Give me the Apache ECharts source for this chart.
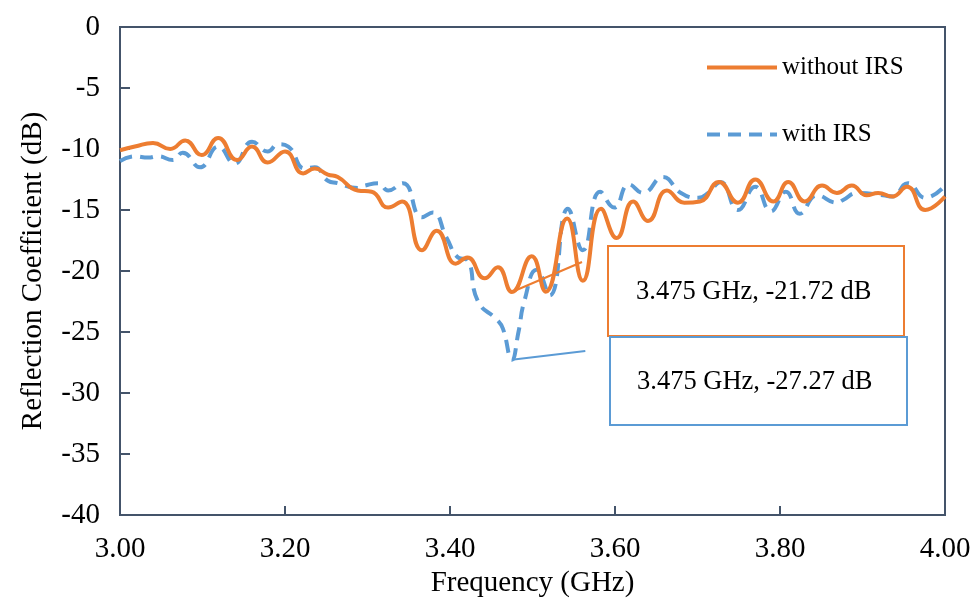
<!DOCTYPE html>
<html>
<head>
<meta charset="utf-8">
<script src="https://cdn.jsdelivr.net/npm/echarts@6/dist/echarts.min.js"></script>
<style>html,body{margin:0;padding:0;background:#fff}#c{width:978px;height:599px}</style>
</head>
<body>
<div id="c"></div>
<script>
const seriesNames = ['without IRS', 'with IRS'];
const freqWithout = [3.000,3.018,3.040,3.061,3.079,3.099,3.119,3.142,3.160,3.179,3.200,3.222,3.236,3.252,3.264,3.288,3.305,3.325,3.342,3.366,3.384,3.407,3.421,3.442,3.458,3.475,3.499,3.516,3.542,3.561,3.583,3.602,3.622,3.640,3.663,3.684,3.703,3.726,3.749,3.770,3.792,3.810,3.830,3.851,3.869,3.887,3.905,3.919,3.936,3.954,3.976,4.000];
const dbWithout = [-10.1,-9.8,-9.5,-10.0,-9.3,-10.5,-9.1,-10.9,-9.8,-11.1,-10.2,-12.0,-11.6,-12.1,-12.3,-13.4,-13.5,-14.8,-14.3,-18.3,-16.7,-19.4,-18.9,-20.6,-19.7,-21.72,-18.8,-21.7,-15.7,-20.8,-14.9,-17.3,-14.3,-15.9,-13.4,-14.4,-14.3,-12.7,-14.4,-12.5,-14.3,-12.7,-14.3,-13.0,-13.6,-13.0,-13.8,-13.6,-13.9,-13.1,-15.0,-13.9];
const freqWith = [3.000,3.018,3.034,3.046,3.064,3.076,3.097,3.119,3.139,3.160,3.179,3.192,3.204,3.224,3.236,3.252,3.264,3.288,3.297,3.313,3.325,3.343,3.366,3.379,3.396,3.410,3.421,3.434,3.457,3.464,3.475,3.483,3.490,3.505,3.521,3.543,3.561,3.582,3.599,3.617,3.634,3.658,3.680,3.701,3.713,3.728,3.749,3.770,3.789,3.807,3.824,3.845,3.869,3.876,3.894,3.925,3.936,3.955,3.976,4.000];
const dbWith = [-11.0,-10.6,-10.7,-10.6,-10.9,-10.3,-11.5,-9.8,-11.2,-9.4,-10.2,-9.6,-9.8,-11.6,-11.5,-12.6,-12.8,-13.2,-13.0,-12.8,-13.4,-12.8,-15.6,-15.2,-17.3,-18.9,-19.1,-22.5,-24.0,-24.7,-27.27,-25.0,-22.5,-19.9,-22.0,-14.9,-18.3,-13.5,-14.8,-12.9,-13.6,-12.3,-13.6,-14.0,-13.6,-12.7,-15.0,-13.1,-15.1,-13.5,-15.3,-13.8,-14.4,-14.2,-13.6,-13.8,-13.9,-12.8,-14.0,-13.0];
const xTicks = [3.0, 3.2, 3.4, 3.6, 3.8, 4.0];
const yTicks = [0,-5,-10,-15,-20,-25,-30,-35,-40];
const annotWithout = [[3.475, -21.72], [3.560, -19.26]];
const annotWith = [[3.475, -27.27], [3.564, -26.56]];
const annotTexts = ['3.475 GHz, -21.72 dB', '3.475 GHz, -27.27 dB'];

const ORANGE = '#ED7D31', BLUE = '#5B9BD5', AXIS = '#44546A';
const FONT = '"Liberation Serif", "Times New Roman", serif';

const chart = echarts.init(document.getElementById('c'));
chart.setOption({
  animation: false,
  grid: { left: 120, right: 33, top: 27, bottom: 84, outerBoundsMode: 'none', containLabel: false, show: true, borderColor: AXIS, borderWidth: 2, backgroundColor: 'transparent' },
  legend: {
    orient: 'vertical', left: 700, top: 50, itemGap: 42, itemWidth: 70, itemHeight: 14,
    itemStyle: { opacity: 0 },
    lineStyle: { width: 4 },
    textStyle: { fontFamily: FONT, fontSize: 25, color: '#000' },
    data: seriesNames
  },
  xAxis: {
    type: 'value', min: xTicks[0], max: xTicks[xTicks.length-1], interval: 0.2,
    name: 'Frequency (GHz)', nameLocation: 'middle', nameGap: 50,
    nameTextStyle: { fontFamily: FONT, fontSize: 29, color: '#000' },
    axisLine: { onZero: false, lineStyle: { color: AXIS, width: 2 } },
    axisTick: { inside: true, length: 9, lineStyle: { color: AXIS, width: 2 } },
    axisLabel: { fontFamily: FONT, fontSize: 29, color: '#000', margin: 20, formatter: v => v.toFixed(2) },
    splitLine: { show: false }
  },
  yAxis: {
    type: 'value', min: yTicks[yTicks.length-1], max: yTicks[0], interval: 5,
    name: 'Reflection Coefficient (dB)', nameLocation: 'middle', nameGap: 72,
    nameTextStyle: { fontFamily: FONT, fontSize: 29, color: '#000' },
    axisLine: { onZero: false, lineStyle: { color: AXIS, width: 2 } },
    axisTick: { inside: true, length: 10, lineStyle: { color: AXIS, width: 2 } },
    axisLabel: { fontFamily: FONT, fontSize: 29, color: '#000', margin: 20 },
    splitLine: { show: false }
  },
  series: [
    {
      name: seriesNames[0], type: 'line', smooth: 0.5, symbol: 'none',
      data: freqWithout.map((f, i) => [f, dbWithout[i]]),
      lineStyle: { color: ORANGE, width: 4 }, itemStyle: { color: ORANGE }, z: 3,
      markLine: {
        silent: true, symbol: ['none', 'none'], label: { show: false },
        lineStyle: { color: ORANGE, width: 2, type: 'solid' },
        data: [[{ coord: annotWithout[0] }, { coord: annotWithout[1] }]]
      }
    },
    {
      name: seriesNames[1], type: 'line', smooth: 0.5, symbol: 'none',
      data: freqWith.map((f, i) => [f, dbWith[i]]),
      lineStyle: { color: BLUE, width: 4, type: [13, 8] }, itemStyle: { color: BLUE }, z: 2,
      markLine: {
        silent: true, symbol: ['none', 'none'], label: { show: false },
        lineStyle: { color: BLUE, width: 2, type: 'solid' },
        data: [[{ coord: annotWith[0] }, { coord: annotWith[1] }]]
      }
    }
  ],
  graphic: [
    { type: 'rect', left: 607, top: 245, shape: { width: 296, height: 90 }, style: { fill: '#fff', stroke: ORANGE, lineWidth: 2 }, z: 10 },
    { type: 'text', left: 636, top: 279, style: { text: annotTexts[0], font: '26.5px ' + FONT, fill: '#000' }, z: 11 },
    { type: 'rect', left: 609, top: 336, shape: { width: 297, height: 88 }, style: { fill: '#fff', stroke: BLUE, lineWidth: 2 }, z: 10 },
    { type: 'text', left: 637, top: 369, style: { text: annotTexts[1], font: '26.5px ' + FONT, fill: '#000' }, z: 11 }
  ]
});
</script>
</body>
</html>
